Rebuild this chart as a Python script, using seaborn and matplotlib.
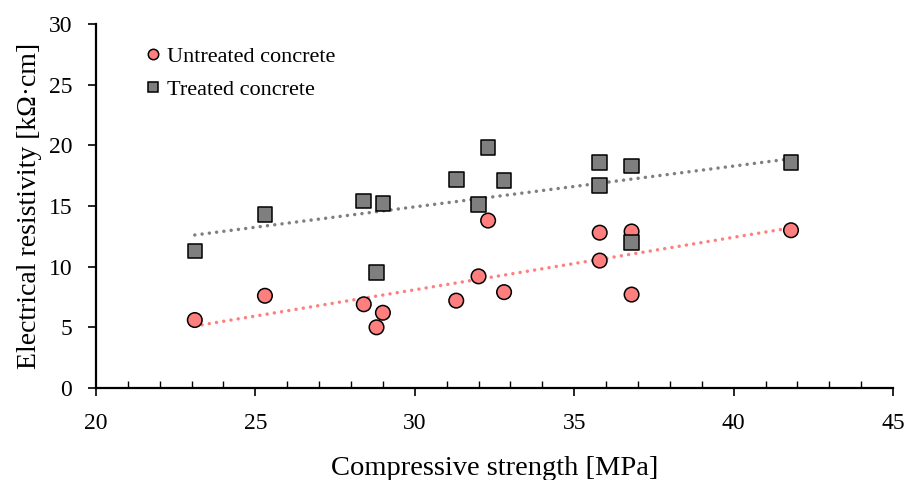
import numpy as np
import pandas as pd
import matplotlib
matplotlib.use("Agg")
import matplotlib.pyplot as plt
import seaborn as sns
from matplotlib.ticker import MultipleLocator

# Compressive strength [MPa] of each specimen
strength = [23.1, 25.3, 28.4, 28.8, 29.0, 31.3, 32.0, 32.3, 32.8, 35.8, 35.8, 36.8, 36.8, 41.8]
# Electrical resistivity [kOhm.cm]
untreated = [5.6, 7.6, 6.9, 5.0, 6.2, 7.2, 9.2, 13.8, 7.9, 12.8, 10.5, 12.9, 7.7, 13.0]
treated = [11.3, 14.3, 15.4, 9.5, 15.2, 17.2, 15.1, 19.8, 17.1, 18.6, 16.7, 18.3, 12.0, 18.6]

series_names = ["Untreated concrete", "Treated concrete"]
series_colors = ["#FF7F7F", "#7F7F7F"]
series_markers = ["o", "s"]

df = pd.concat([
    pd.DataFrame({"strength": strength, "resistivity": untreated, "group": series_names[0]}),
    pd.DataFrame({"strength": strength, "resistivity": treated, "group": series_names[1]}),
], ignore_index=True)

sns.set_style("white")
plt.rcParams["font.family"] = ["Liberation Serif", "DejaVu Serif"]
plt.rcParams["text.color"] = "black"
plt.rcParams["axes.labelcolor"] = "black"
plt.rcParams["xtick.color"] = "black"
plt.rcParams["ytick.color"] = "black"

fig = plt.figure(figsize=(9.07, 4.8), dpi=100)
ax = fig.add_axes([0.1058, 0.1917, 0.8788, 0.7583])

# Linear trend lines drawn as round dots
for name, color in zip(series_names, series_colors):
    sub = df[df["group"] == name]
    sns.regplot(data=sub, x="strength", y="resistivity", ax=ax, scatter=False, ci=None,
                color=color, truncate=True,
                line_kws=dict(linestyle=(0, (0.01, 2.1)), linewidth=2.5,
                              dash_capstyle="round", zorder=2))

sns.scatterplot(data=df, x="strength", y="resistivity", hue="group", style="group",
                palette=dict(zip(series_names, series_colors)),
                markers=dict(zip(series_names, series_markers)),
                s=110, edgecolor="black", linewidth=1.1, ax=ax, zorder=3)

ax.set_xlim(20, 45)
ax.set_ylim(0, 30)
ax.xaxis.set_major_locator(MultipleLocator(5))
ax.xaxis.set_minor_locator(MultipleLocator(1))
ax.yaxis.set_major_locator(MultipleLocator(5))

for side in ["top", "right"]:
    ax.spines[side].set_visible(False)
for side in ["left", "bottom"]:
    ax.spines[side].set_color("black")
    ax.spines[side].set_linewidth(1.6)

ax.tick_params(axis="both", which="major", direction="out", length=6, width=1.2,
               labelsize=17, labelcolor="black", color="black")
ax.tick_params(axis="x", which="minor", direction="in", length=5, width=1.0,
               bottom=True, color="black")
ax.tick_params(axis="x", which="major", bottom=True, pad=12)
ax.tick_params(axis="y", which="major", left=True, pad=11)

ax.set_xlabel("Compressive strength [MPa]", fontsize=20.5, labelpad=16, color="black")
ax.set_ylabel("Electrical resistivity [kΩ·cm]", fontsize=20, labelpad=5, color="black")

leg = ax.legend(loc="upper left", bbox_to_anchor=(0.046, 0.962), frameon=False,
                fontsize=16, handletextpad=0.15, labelspacing=0.55, borderaxespad=0,
                handlelength=1.0)
for h in leg.legend_handles:
    h.set_markersize(7.5)
for t in leg.get_texts():
    t.set_color("black")

fig.savefig("out.png", dpi=100)
